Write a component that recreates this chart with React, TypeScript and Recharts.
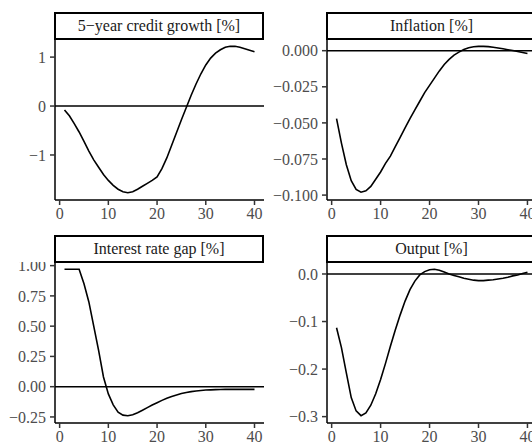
import React from "react";
import { Line, LineChart, ReferenceLine, XAxis, YAxis } from "recharts";

const horizon = Array.from({ length: 40 }, (_, i) => i + 1);

const creditGrowth = [
  -0.08, -0.2, -0.36, -0.53, -0.72, -0.92, -1.1, -1.25, -1.4, -1.52,
  -1.62, -1.7, -1.75, -1.77, -1.75, -1.7, -1.64, -1.58, -1.52, -1.45,
  -1.28, -1.06, -0.8, -0.54, -0.28, -0.03, 0.22, 0.45, 0.66, 0.84,
  0.98, 1.08, 1.15, 1.2, 1.22, 1.22, 1.2, 1.17, 1.14, 1.11,
];

const inflation = [
  -0.047, -0.064, -0.079, -0.09, -0.096, -0.098, -0.097, -0.094, -0.089, -0.084,
  -0.078, -0.073, -0.0665, -0.06, -0.0535, -0.047, -0.041, -0.035, -0.029, -0.024,
  -0.019, -0.014, -0.0095, -0.006, -0.003, -0.001, 0.0008, 0.002, 0.0027, 0.003,
  0.003, 0.0028, 0.0024, 0.0019, 0.0013, 0.0007, 0.0001, -0.0006, -0.0013, -0.002,
];

const rateGap = [
  0.97, 0.97, 0.97, 0.97, 0.85, 0.7, 0.5, 0.3, 0.08, -0.06,
  -0.15, -0.21, -0.235, -0.24, -0.232, -0.215, -0.195, -0.173, -0.152, -0.132,
  -0.113, -0.096, -0.081, -0.068, -0.057, -0.048, -0.041, -0.035, -0.031, -0.028,
  -0.026, -0.024, -0.023, -0.022, -0.022, -0.022, -0.022, -0.022, -0.022, -0.022,
];

const output = [
  -0.113, -0.155, -0.208, -0.26, -0.288, -0.298, -0.292, -0.276, -0.252, -0.222,
  -0.188, -0.152, -0.118, -0.086, -0.057, -0.033, -0.015, -0.002, 0.005, 0.009,
  0.0098, 0.008, 0.004, 0.0, -0.003, -0.006, -0.009, -0.011, -0.013, -0.014,
  -0.014, -0.013, -0.012, -0.0105, -0.009, -0.007, -0.004, -0.002, 0.001, 0.0035,
];

const xTicks = [0, 10, 20, 30, 40];
const creditTicks = [-1, 0, 1];
const inflationTicks = [-0.1, -0.075, -0.05, -0.025, 0];
const rateTicks = [-0.25, 0, 0.25, 0.5, 0.75, 1];
const outputTicks = [-0.3, -0.2, -0.1, 0];

const data = horizon.map((t, i) => ({
  t,
  credit: creditGrowth[i],
  inflation: inflation[i],
  rate: rateGap[i],
  output: output[i],
}));

const FONT = "'Liberation Serif', 'Times New Roman', serif";
const FS = 16;
const minus = (s: string) => s.replace("-", "\u2212");

type PanelProps = {
  title: string;
  dataKey: string;
  domain: [number, number];
  ticks: number[];
  digits: number;
  left: number;
  top: number;
  yWidth: number;
  plotW: number;
  plotH: number;
};

function Panel({ title, dataKey, domain, ticks, digits, left, top, yWidth, plotW, plotH }: PanelProps) {
  const xAxisH = 32;
  return (
    <>
      <div
        style={{
          position: "absolute",
          left: left + yWidth - 1,
          top: top - 27,
          width: plotW + 1,
          height: 28,
          boxSizing: "border-box",
          border: "2.5px solid #000",
          display: "flex",
          alignItems: "center",
          justifyContent: "center",
          fontFamily: FONT,
          fontSize: FS,
          color: "#1a1a1a",
          background: "#fff",
        }}
      >
        {title}
      </div>
      <div style={{ position: "absolute", left, top }}>
        <LineChart
          width={yWidth + plotW}
          height={plotH + xAxisH}
          data={data}
          margin={{ top: 0, right: 0, bottom: 0, left: 0 }}
        >
          <XAxis
            dataKey="t"
            type="number"
            domain={[-0.95, 41.95]}
            ticks={xTicks}
            interval={0}
            allowDataOverflow
            height={xAxisH}
            tickSize={5}
            tickMargin={3}
            axisLine={{ stroke: "#000", strokeWidth: 1.5 }}
            tickLine={{ stroke: "#333", strokeWidth: 1.5 }}
            tick={{ fill: "#4d4d4d", fontSize: FS, fontFamily: FONT }}
          />
          <YAxis
            type="number"
            domain={domain}
            ticks={ticks}
            interval={0}
            allowDataOverflow
            width={yWidth}
            tickSize={5}
            tickMargin={4}
            tickFormatter={(v: number) => minus(v.toFixed(digits))}
            axisLine={{ stroke: "#000", strokeWidth: 1.5 }}
            tickLine={{ stroke: "#333", strokeWidth: 1.5 }}
            tick={{ fill: "#4d4d4d", fontSize: FS, fontFamily: FONT }}
          />
          <ReferenceLine y={0} stroke="#000" strokeWidth={1.5} />
          <Line
            type="linear"
            dataKey={dataKey}
            stroke="#000"
            strokeWidth={1.6}
            dot={false}
            isAnimationActive={false}
          />
        </LineChart>
      </div>
    </>
  );
}

export default function App() {
  return (
    <div
      style={{
        position: "absolute",
        left: 0,
        top: 0,
        width: 532,
        height: 442,
        overflow: "hidden",
        background: "#fff",
      }}
    >
      <Panel
        title={"5\u2212year credit growth [%]"}
        dataKey="credit"
        domain={[-1.92, 1.37]}
        ticks={creditTicks}
        digits={0}
        left={0}
        top={39}
        yWidth={55}
        plotW={209}
        plotH={161}
      />
      <Panel
        title="Inflation [%]"
        dataKey="inflation"
        domain={[-0.1034, 0.0081]}
        ticks={inflationTicks}
        digits={3}
        left={262}
        top={39}
        yWidth={65}
        plotW={210}
        plotH={161}
      />
      <Panel
        title="Interest rate gap [%]"
        dataKey="rate"
        domain={[-0.3, 1.03]}
        ticks={rateTicks}
        digits={2}
        left={0}
        top={262}
        yWidth={55}
        plotW={209}
        plotH={161}
      />
      <Panel
        title="Output [%]"
        dataKey="output"
        domain={[-0.3134, 0.0252]}
        ticks={outputTicks}
        digits={1}
        left={262}
        top={262}
        yWidth={65}
        plotW={210}
        plotH={161}
      />
    </div>
  );
}
